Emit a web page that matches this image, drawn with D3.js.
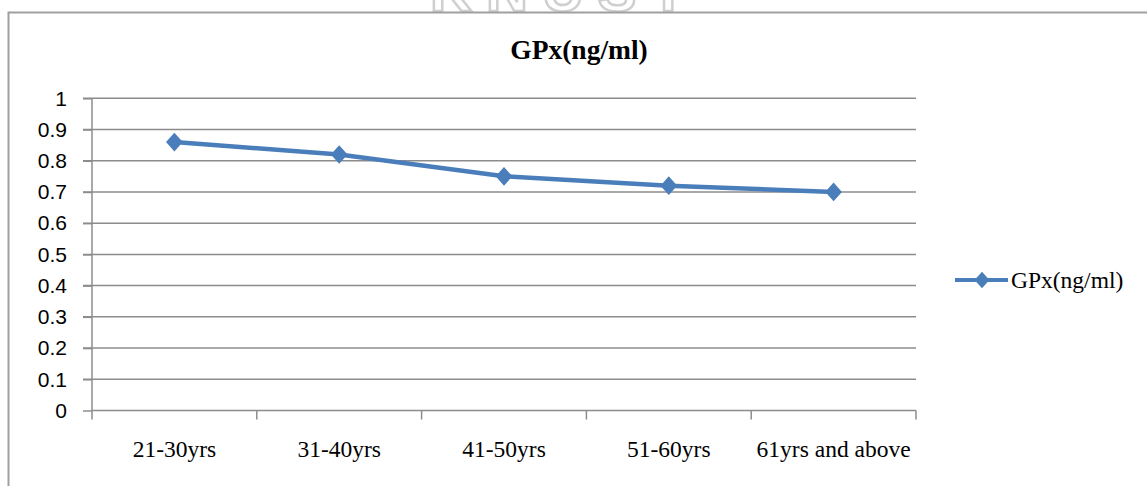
<!DOCTYPE html>
<html><head><meta charset="utf-8">
<script src="https://cdn.jsdelivr.net/npm/d3@7"></script>
<style>body{margin:0;background:#fff;}svg{display:block;}</style>
</head><body>
<svg id="c" width="1147" height="486"></svg>
<script>
const categories = ["21-30yrs","31-40yrs","41-50yrs","51-60yrs","61yrs and above"];
const values = [0.86, 0.82, 0.75, 0.72, 0.70];
const yTicks = [0,0.1,0.2,0.3,0.4,0.5,0.6,0.7,0.8,0.9,1];
const seriesName = "GPx(ng/ml)";
const title = "GPx(ng/ml)";

const svg = d3.select("#c");
const W = 1147, H = 486;
const m = {left: 92, right: 916, top: 98.3, bottom: 410.5};
const blue = "#4a7ebb";
const serif = "Liberation Serif, Times New Roman, serif";
const sans = "Liberation Sans, Arial, sans-serif";

// watermark (faint, cut off by the top of the page as in the source scan)
svg.append("text").attr("x", 565).attr("y", 11).attr("text-anchor","middle")
  .attr("font-family", sans).attr("font-weight","bold").attr("font-size",58)
  .attr("fill","none").attr("stroke","#cfcfcf").attr("stroke-width",2.5).attr("letter-spacing",14)
  .text("KNUST");

// frame
svg.append("path").attr("d", `M8.5,${H} V12.5 H${W}`).attr("fill","none")
  .attr("stroke","#a0a0a0").attr("stroke-width",2);

const x = d3.scaleBand().domain(categories).range([m.left, m.right]);
const y = d3.scaleLinear().domain([0,1]).range([m.bottom, m.top]);

// gridlines
svg.append("g").selectAll("line").data(yTicks.filter(d=>d>0)).join("line")
  .attr("x1", m.left - 9).attr("x2", m.right)
  .attr("y1", d=>y(d)).attr("y2", d=>y(d))
  .attr("stroke","#8c8c8c").attr("stroke-width",1.5);

// y axis
const ya = svg.append("g").attr("transform",`translate(${m.left},0)`)
  .call(d3.axisLeft(y).tickValues(yTicks).tickFormat(d=>String(+d.toFixed(1))).tickSize(9).tickPadding(16));
ya.select(".domain").attr("stroke","#8c8c8c").attr("stroke-width",1.5).attr("d",`M0,${m.top}V${m.bottom}`);
ya.selectAll(".tick line").attr("stroke","#8c8c8c").attr("stroke-width",1.5);
ya.selectAll(".tick text").attr("font-family", sans).attr("font-size",21).attr("fill","#000");

// x axis
const xa = svg.append("g").attr("transform",`translate(0,${m.bottom})`)
  .call(d3.axisBottom(x).tickSize(0).tickPadding(30));
xa.select(".domain").attr("stroke","#8c8c8c").attr("stroke-width",1.5).attr("d",`M${m.left},0H${m.right}`);
xa.selectAll(".tick text").attr("font-family", serif).attr("font-size",23.5).attr("fill","#000");
svg.append("g").selectAll("line").data(categories.map(c=>x(c)).concat([m.right])).join("line")
  .attr("x1",d=>d).attr("x2",d=>d).attr("y1",m.bottom).attr("y2",m.bottom+9)
  .attr("stroke","#8c8c8c").attr("stroke-width",1.5);

// line
const cx = (d,i)=>x(categories[i]) + x.bandwidth()/2;
svg.append("path").datum(values)
  .attr("d", d3.line().x(cx).y(d=>y(d)))
  .attr("fill","none").attr("stroke",blue).attr("stroke-width",4.5).attr("stroke-linejoin","round");
svg.append("g").selectAll("path").data(values).join("path")
  .attr("transform",(d,i)=>`translate(${cx(d,i)},${y(d)}) scale(1,1.12) rotate(45)`)
  .attr("d", d3.symbol().type(d3.symbolSquare).size(140))
  .attr("fill",blue);

// title
svg.append("text").attr("x",579).attr("y",59).attr("text-anchor","middle")
  .attr("font-family", serif).attr("font-weight","bold").attr("font-size",27.5)
  .text(title);

// legend
const lg = svg.append("g").attr("transform","translate(955,280)");
lg.append("line").attr("x1",0).attr("x2",53).attr("stroke",blue).attr("stroke-width",4);
lg.append("path").attr("transform","translate(27,0) scale(1,1.1) rotate(45)").attr("d", d3.symbol().type(d3.symbolSquare).size(110)).attr("fill",blue);
lg.append("text").attr("x",56).attr("y",8).attr("font-family", serif)
  .attr("font-size",23.5).text(seriesName);
</script>
</body></html>
